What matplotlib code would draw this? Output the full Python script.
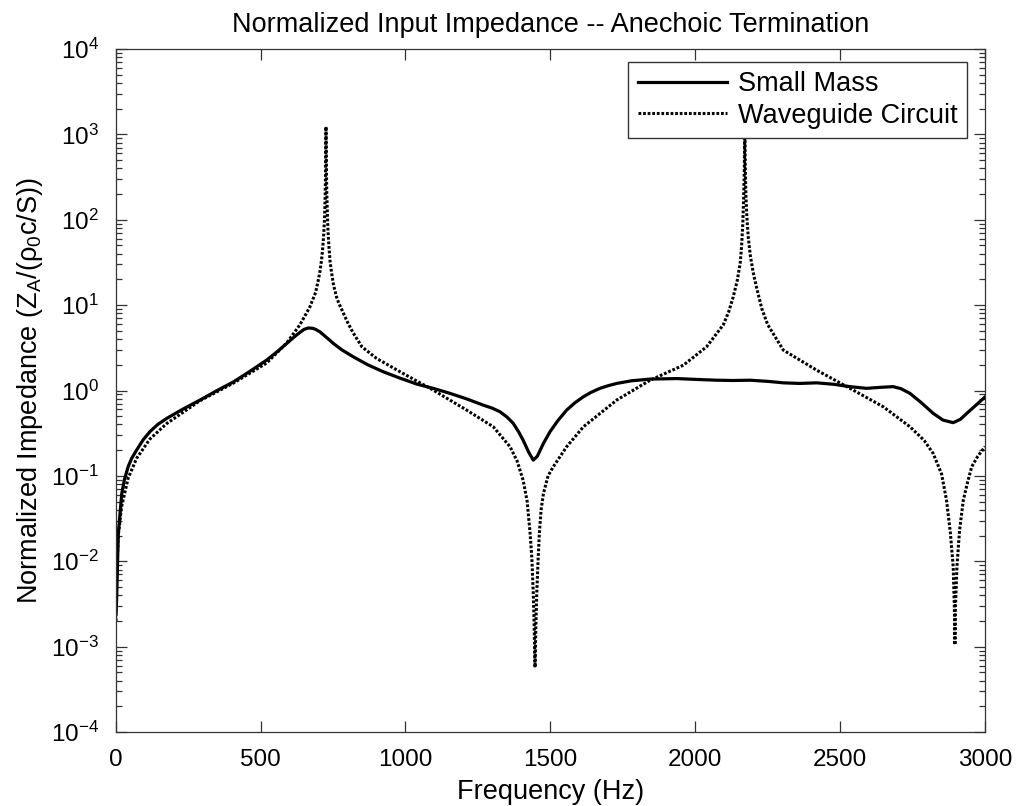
import matplotlib
matplotlib.use("Agg")
import matplotlib.pyplot as plt
from matplotlib.ticker import LogLocator, FixedLocator, NullFormatter

plt.rcParams["font.family"] = ["Liberation Sans", "DejaVu Sans"]
plt.rcParams["mathtext.fontset"] = "custom"
plt.rcParams["mathtext.rm"] = "Liberation Sans"
plt.rcParams["mathtext.it"] = "Liberation Sans:italic"
plt.rcParams["axes.unicode_minus"] = False

# Small Mass (solid)
mass_f = [1.5, 3.5, 9, 21, 30, 43, 55, 72, 95, 118, 145, 176, 230, 291, 350,
          406, 460, 521, 560, 590, 620, 636, 650, 665, 680, 690, 705, 725,
          740, 751, 780, 820, 870, 923, 980, 1039, 1100, 1154, 1210, 1268,
          1300, 1326, 1350, 1372, 1390, 1406, 1425, 1441, 1455, 1476, 1499,
          1525, 1556, 1585, 1614, 1640, 1671, 1700, 1729, 1780, 1844, 1936,
          2000, 2074, 2130, 2189, 2250, 2304, 2360, 2419, 2480, 2534, 2591,
          2640, 2683, 2710, 2741, 2780, 2821, 2855, 2890, 2915, 2937, 2970,
          3000]
mass_z = [0.0025, 0.0038, 0.021, 0.062, 0.09, 0.128, 0.16, 0.2, 0.265, 0.329,
          0.4, 0.471, 0.6, 0.773, 1.0, 1.26, 1.65, 2.27, 2.9, 3.55, 4.35,
          4.8, 5.2, 5.4, 5.35, 5.2, 4.86, 4.25, 3.85, 3.56, 3.0, 2.48, 2.0,
          1.66, 1.4, 1.19, 1.05, 0.925, 0.8, 0.675, 0.62, 0.564, 0.49, 0.412,
          0.33, 0.262, 0.19, 0.153, 0.17, 0.24, 0.33, 0.44, 0.589, 0.72,
          0.845, 0.95, 1.06, 1.14, 1.21, 1.3, 1.36, 1.38, 1.35, 1.32, 1.31,
          1.32, 1.28, 1.23, 1.21, 1.23, 1.18, 1.11, 1.06, 1.09, 1.11, 1.05,
          0.925, 0.72, 0.54, 0.45, 0.42, 0.46, 0.54, 0.68, 0.84]

# Waveguide Circuit (dotted)
wg_f = [1, 3, 9, 20, 43, 72, 118, 176, 291, 406, 521, 590, 636, 670, 690,
        699, 705, 710, 714, 718, 721, 723, 724.5, 725.7, 727, 728.5, 731,
        733, 736, 740, 745, 751, 756, 762, 770, 780, 800, 820, 850, 900,
        981, 1096, 1211, 1303, 1361, 1385, 1406, 1420, 1430, 1436, 1441,
        1444, 1447, 1450, 1453, 1458, 1462, 1468, 1476, 1492, 1510, 1556,
        1614, 1729, 1844, 1959, 2039, 2097, 2115, 2131, 2145, 2155, 2160,
        2164, 2167, 2169.5, 2171, 2172.5, 2175, 2179, 2183, 2190, 2200,
        2212, 2230, 2250, 2304, 2419, 2534, 2649, 2741, 2790, 2821, 2850,
        2867, 2880, 2890, 2894, 2896, 2898, 2903, 2912, 2925, 2940, 2954,
        2975, 3000]
wg_z = [0.002, 0.0065, 0.02, 0.043, 0.094, 0.16, 0.27, 0.41, 0.76, 1.22,
        2.1, 3.6, 5.9, 9.5, 14.1, 19.5, 25, 33, 45, 68, 110, 200, 420,
        1230, 420, 200, 105, 70, 48, 32, 24, 17.8, 15, 12.5, 10.5, 8.9, 6.3,
        4.7, 3.24, 2.38, 1.66, 1.01, 0.59, 0.376, 0.219, 0.15, 0.089, 0.05,
        0.0214, 0.011, 0.0042, 0.0018, 0.00057, 0.0018, 0.0042, 0.011,
        0.0214, 0.04, 0.062, 0.1, 0.128, 0.219, 0.376, 0.773, 1.32, 1.98,
        3.25, 5.9, 8.3, 12.5, 19.5, 31, 50, 90, 180, 420, 1500, 420, 180,
        95, 62, 38, 24, 15.8, 9.0, 5.9, 2.97, 1.73, 1.06, 0.644, 0.376,
        0.26, 0.183, 0.105, 0.052, 0.022, 0.0087, 0.003, 0.00105, 0.003,
        0.0087, 0.023, 0.052, 0.085, 0.128, 0.17, 0.22]

FS = 19.5
TFS = 17.5

fig = plt.figure(figsize=(10.21, 8.06), dpi=100)
ax = fig.add_axes([0.1133, 0.0918, 0.8515, 0.8474])

ax.plot(mass_f, mass_z, color="black", lw=2.3, label="Small Mass",
        solid_joinstyle="round")
ax.plot(wg_f, wg_z, color="black", lw=2.2, linestyle=(0, (0.9, 0.6)),
        label="Waveguide Circuit")

ax.set_yscale("log")
ax.set_xlim(0, 3000)
ax.set_ylim(1e-4, 1e4)
ax.xaxis.set_major_locator(FixedLocator([0, 500, 1000, 1500, 2000, 2500, 3000]))
ax.yaxis.set_major_locator(LogLocator(base=10, numticks=20))
ax.yaxis.set_minor_locator(LogLocator(base=10, subs=range(2, 10), numticks=20))
ax.yaxis.set_minor_formatter(NullFormatter())
ax.tick_params(which="both", direction="in", top=True, right=True,
               labelsize=TFS, width=0.9, color="#333333")
ax.tick_params(which="major", length=8)
ax.tick_params(which="minor", length=4)
ax.tick_params(axis="x", pad=12)
ax.tick_params(axis="y", pad=12)
for s in ax.spines.values():
    s.set_linewidth(0.9)
    s.set_color("#333333")

ax.set_title("Normalized Input Impedance -- Anechoic Termination",
             fontsize=FS, pad=12)
ax.set_xlabel("Frequency (Hz)", fontsize=FS, labelpad=6)
ax.set_ylabel(r"Normalized Impedance (Z$_{\mathrm{A}}$/(ρ$_{\mathrm{0}}$c/S))",
              fontsize=FS, labelpad=4)

leg = ax.legend(loc="upper right", bbox_to_anchor=(0.9793, 0.981),
                borderaxespad=0, fontsize=FS, fancybox=False, framealpha=1,
                edgecolor="#333333", handlelength=3.3, handletextpad=0.4,
                borderpad=0.35, labelspacing=0.2)
leg.get_frame().set_linewidth(1.0)

fig.savefig("out.png", dpi=100)
